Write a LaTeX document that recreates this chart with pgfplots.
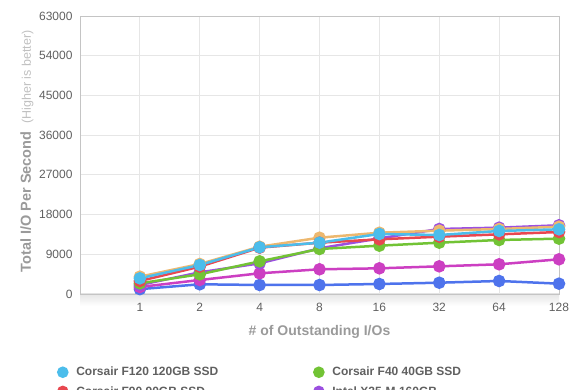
\documentclass[border=0pt]{standalone}
\usepackage{pgfplots}
\pgfplotsset{compat=1.18}
\usepackage{fontspec}
\setmainfont{Liberation Sans}
\definecolor{ccyan}{HTML}{4CBDEB}
\definecolor{cred}{HTML}{E8474F}
\definecolor{cgreen}{HTML}{72C335}
\definecolor{cpurple}{HTML}{9B4FE0}
\definecolor{corange}{HTML}{EDB86F}
\definecolor{cmag}{HTML}{CC3FC2}
\definecolor{cblue}{HTML}{4E73EC}
\definecolor{tickgray}{HTML}{606060}
\definecolor{labgray}{HTML}{9A9A9A}
\definecolor{lightlab}{HTML}{C0C0C0}
\definecolor{gridc}{HTML}{E6E6E6}
\definecolor{axc}{HTML}{C4C4C4}
\begin{document}
\begin{tikzpicture}[x=1pt,y=1pt]
\shade[top color=black!10, bottom color=white] (80,84) rectangle (559,96);
\begin{axis}[
  at={(80pt,96pt)}, anchor=south west,
  scale only axis, width=479pt, height=278pt,
  xmin=0, xmax=8, ymin=0, ymax=63000,
  xtick={1,...,8}, xticklabels={1,2,4,8,16,32,64,128},
  ytick={0,9000,...,63000},
  /pgf/number format/1000 sep={},
  /pgf/number format/assume math mode=true,
  scaled y ticks=false,
  grid=major, major grid style={gridc, line width=0.8pt},
  axis line style={axc, line width=0.8pt},
  major tick length=0pt,
  tick label style={font=\fontsize{12}{14}\selectfont, text=tickgray},
  yticklabel style={anchor=east, xshift=-4pt},
  xticklabel style={anchor=north, yshift=-6pt},
  xlabel={\textbf{\# of Outstanding I/Os}},
  xlabel style={font=\fontsize{14}{16}\selectfont, text=labgray, at={(axis description cs:0.5,-0.138)}, anchor=center},
  ylabel={\textbf{Total I/O Per Second}\ \ {\fontsize{12.5}{14}\selectfont\color{lightlab}(Higher is better)}},
  ylabel style={font=\fontsize{14.5}{16}\selectfont, text=labgray, at={(axis description cs:-0.111,0.513)}, anchor=center},
  legend style={draw=none, fill=none, at={(axis description cs:-0.052,-0.248)}, anchor=north west,
    font=\bfseries\fontsize{12}{14}\selectfont, text=tickgray, row sep=5pt,
    /tikz/every odd column/.append style={column sep=7pt},
    /tikz/every even column/.append style={column sep=94pt}},
  legend columns=2, legend cell align=left,
  every axis plot/.append style={line width=2.5pt, mark=*, mark size=5pt},
]
\addlegendimage{only marks, mark=*, mark size=4.5pt, ccyan}
\addlegendentry{Corsair F120 120GB SSD}
\addlegendimage{only marks, mark=*, mark size=4.5pt, cgreen}
\addlegendentry{Corsair F40 40GB SSD}
\addlegendimage{only marks, mark=*, mark size=4.5pt, cred}
\addlegendentry{Corsair F90 90GB SSD}
\addlegendimage{only marks, mark=*, mark size=4.5pt, cpurple}
\addlegendentry{Intel X25-M 160GB}
\addplot[cblue, forget plot] coordinates {(1,1100)(2,2200)(3,2040)(4,2040)(5,2270)(6,2560)(7,2950)(8,2340)};
\addplot[cmag, forget plot] coordinates {(1,1590)(2,3170)(3,4690)(4,5600)(5,5820)(6,6270)(7,6730)(8,7860)};
\addplot[cpurple, forget plot] coordinates {(1,2040)(2,4910)(3,6950)(4,10350)(5,12600)(6,14730)(7,15030)(8,15570)};
\addplot[corange, forget plot] coordinates {(1,3930)(2,6800)(3,10720)(4,12760)(5,13890)(6,14350)(7,14730)(8,15250)};
\addplot[cgreen, forget plot] coordinates {(1,2420)(2,4460)(3,7400)(4,10200)(5,10950)(6,11630)(7,12240)(8,12540)};
\addplot[cred, forget plot] coordinates {(1,2950)(2,6200)(3,10500)(4,11630)(5,12390)(6,12990)(7,13520)(8,14050)};
\addplot[ccyan, forget plot] coordinates {(1,3550)(2,6570)(3,10580)(4,11630)(5,13600)(6,13370)(7,14280)(8,14660)};
\end{axis}
\pgfresetboundingbox
\path[use as bounding box] (0,0) rectangle (580,390);
\end{tikzpicture}
\end{document}
